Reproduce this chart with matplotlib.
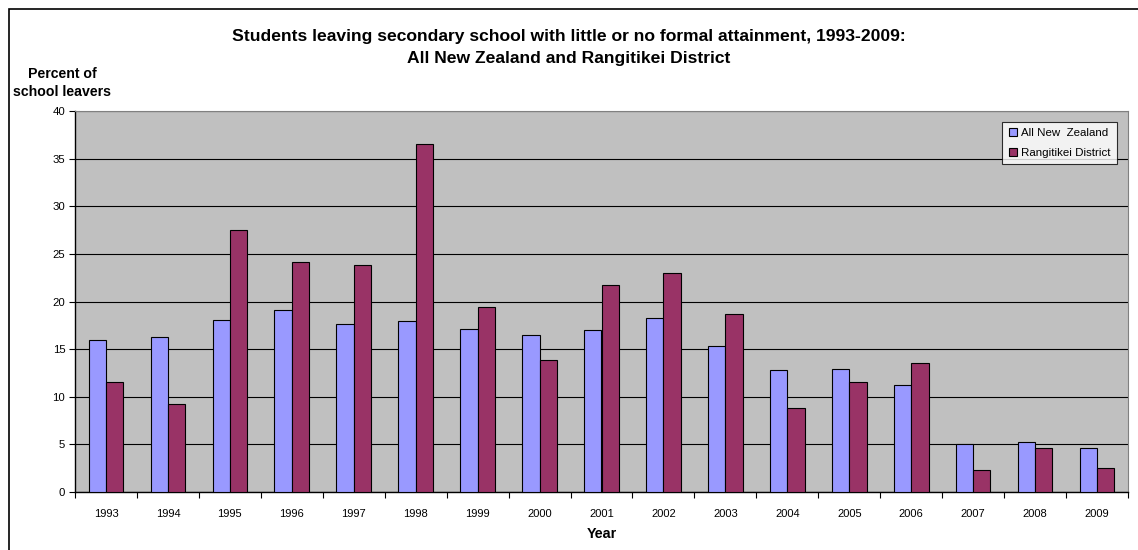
import numpy as np
import matplotlib.pyplot as plt
from matplotlib.patches import Rectangle

plt.rcParams['font.family'] = ['Liberation Sans', 'DejaVu Sans']

years = [str(y) for y in range(1993, 2010)]
all_nz = [16.0, 16.3, 18.1, 19.1, 17.6, 18.0, 17.1, 16.5, 17.0, 18.3,
          15.3, 12.8, 12.9, 11.2, 5.0, 5.3, 4.6]
rangitikei = [11.6, 9.2, 27.5, 24.1, 23.8, 36.5, 19.4, 13.9, 21.7, 23.0,
              18.7, 8.8, 11.6, 13.5, 2.3, 4.6, 2.5]
series_names = ['All New  Zealand', 'Rangitikei District']

fig = plt.figure(figsize=(11.38, 5.5), dpi=100)
ax = fig.add_axes([75 / 1138, 1 - 492 / 550, (1128 - 75) / 1138, (492 - 111) / 550])

# outer chart frame
fig.patches.append(Rectangle((9 / 1138, -0.01), 1.02, 1 - 9 / 550 + 0.01,
                             transform=fig.transFigure, fill=False,
                             edgecolor='black', linewidth=1.2))

x = np.arange(len(years))
w = 0.28
ax.set_facecolor('#C0C0C0')
ax.bar(x - w / 2, all_nz, w, color='#9999FF', edgecolor='black',
       linewidth=0.8, label=series_names[0], zorder=3)
ax.bar(x + w / 2, rangitikei, w, color='#993366', edgecolor='black',
       linewidth=0.8, label=series_names[1], zorder=3)

ax.set_xlim(-0.5, len(years) - 0.5)
ax.set_ylim(0, 40)
ax.set_yticks(range(0, 41, 5))
ax.yaxis.grid(True, color='black', linewidth=0.8, zorder=0)
ax.set_axisbelow(True)

# year labels centred, tick marks on category boundaries
ax.set_xticks(np.arange(-0.5, len(years), 1))
ax.set_xticklabels([])
ax.set_xticks(x, minor=True)
ax.set_xticklabels(years, minor=True, fontsize=8)
ax.tick_params(axis='x', which='minor', length=0, pad=12)
ax.tick_params(axis='x', which='major', length=4, width=0.8, direction='out')
ax.tick_params(axis='y', length=4, width=0.8, labelsize=8.2, pad=3)

for side in ['top', 'right']:
    ax.spines[side].set_color('#808080')
ax.spines['left'].set_linewidth(1)
ax.spines['bottom'].set_linewidth(1)

ax.set_xlabel('Year', fontsize=10.3, fontweight='bold', labelpad=6)

fig.text(0.5, 1 - 37 / 550, 'Students leaving secondary school with little or no formal attainment, 1993-2009:',
         ha='center', va='center', fontsize=12.6, fontweight='bold')
fig.text(0.5, 1 - 58 / 550, 'All New Zealand and Rangitikei District',
         ha='center', va='center', fontsize=12.6, fontweight='bold')
fig.text(62 / 1138, 1 - 74 / 550, 'Percent of', ha='center', va='center',
         fontsize=10.2, fontweight='bold')
fig.text(62 / 1138, 1 - 92 / 550, 'school leavers', ha='center', va='center',
         fontsize=10.2, fontweight='bold')

leg = ax.legend(loc='upper right', bbox_to_anchor=(1042 / 1053, 0.971),
                fontsize=8.25, frameon=True, fancybox=False,
                handlelength=0.7, handleheight=0.7, handletextpad=0.4,
                borderpad=0.55, labelspacing=0.85, borderaxespad=0)
leg.get_frame().set_edgecolor('black')
leg.get_frame().set_linewidth(0.8)
leg.get_frame().set_facecolor('white')

fig.savefig('out.png', dpi=100, facecolor='white')
